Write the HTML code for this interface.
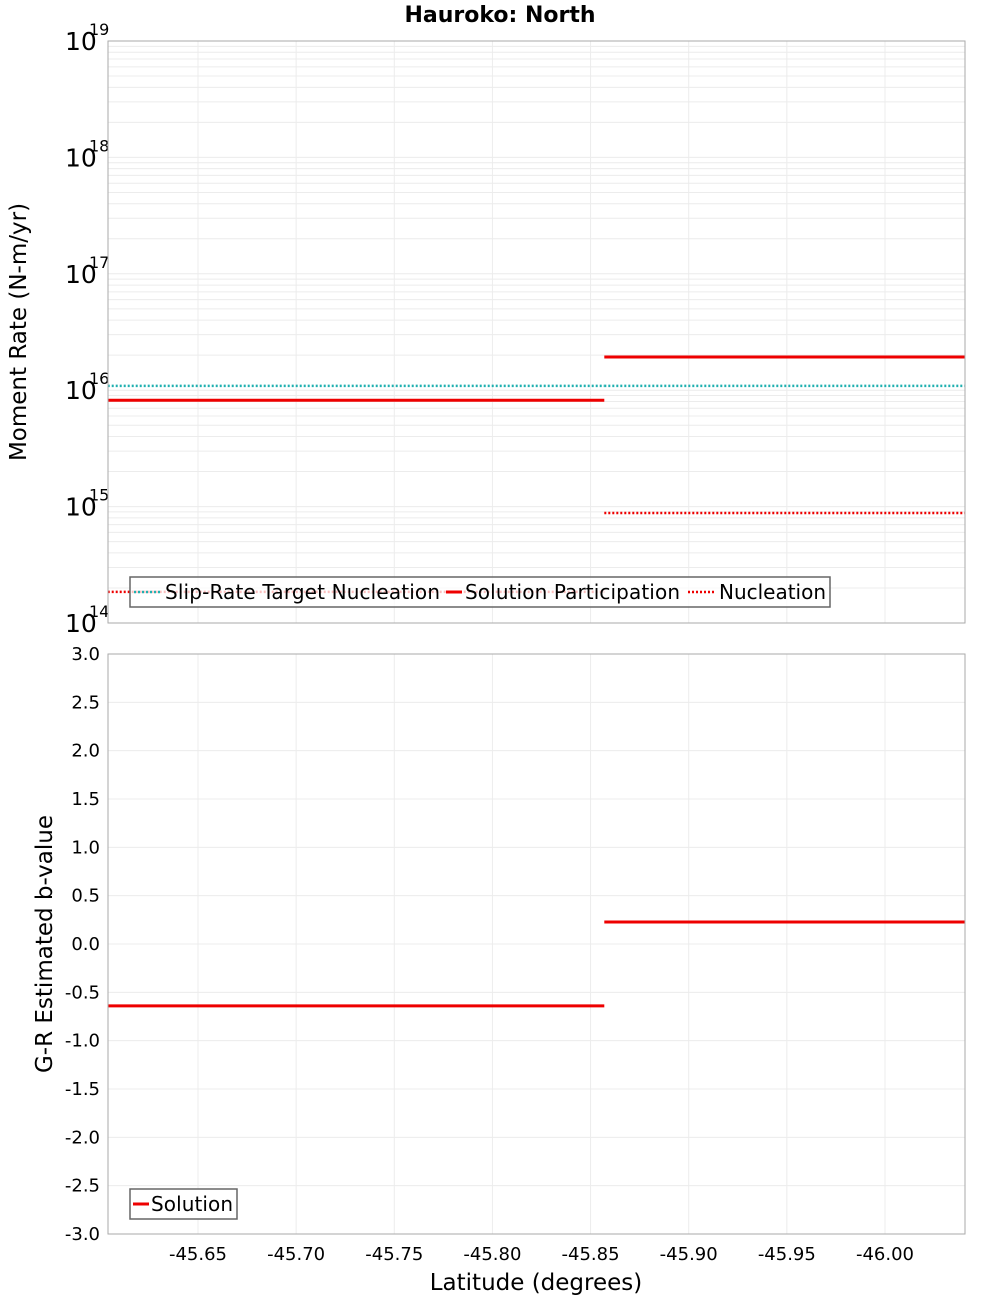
<!DOCTYPE html>
<html><head><meta charset="utf-8"><style>
body{margin:0;background:#fff;font-family:"Liberation Sans","DejaVu Sans",sans-serif}
svg text{font-family:"DejaVu Sans","Liberation Sans",sans-serif}
</style></head><body>
<svg id="c" width="1000" height="1300" xmlns="http://www.w3.org/2000/svg">
<text x="500" y="22" text-anchor="middle" font-size="22" font-weight="bold">Hauroko: North</text>
<g id="topPanel"></g>
<g id="botPanel"></g>
</svg>
<script>
const xTicks=[-45.65,-45.70,-45.75,-45.80,-45.85,-45.90,-45.95,-46.00];
const segLat=[-45.604,-45.857,-46.041];
const targetRate=[1.09e16,1.09e16];
const partRate=[8.2e15,1.93e16];
const nuclRate=[1.85e14,8.8e14];
const bValue=[-0.64,0.228];
const yBTicks=[3.0,2.5,2.0,1.5,1.0,0.5,0.0,-0.5,-1.0,-1.5,-2.0,-2.5,-3.0];
const decades=[14,15,16,17,18,19];

const NS="http://www.w3.org/2000/svg";
const L=108,R=965,T1=41,B1=623,T2=654,B2=1234;
const X=v=>198+(v-(-45.65))/(-0.05)*98.14;
const Y1=v=>T1+(19-Math.log10(v))*(B1-T1)/5;
const Y2=v=>T2+(3-v)*(B2-T2)/6;
function mk(p,t,a){const e=document.createElementNS(NS,t);for(const k in a)e.setAttribute(k,a[k]);p.appendChild(e);return e;}
const topG=document.getElementById('topPanel'),botG=document.getElementById('botPanel');

for(const d of decades){ if(d<19) for(let m=1;m<10;m++){const y=Y1(m*Math.pow(10,d));
 const g=mk(topG,'line',{x1:L,x2:R,y1:y,y2:y,stroke:'#ececec','stroke-width':1});
 
 }}
for(const v of yBTicks){const y=Y2(v);
 const g=mk(botG,'line',{x1:L,x2:R,y1:y,y2:y,stroke:'#ececec','stroke-width':1});
 
 
 const t=mk(botG,'text',{x:100,y:y+6,'text-anchor':'end','font-size':18});
 
 
 t.textContent=v.toFixed(1);}
for(const v of xTicks){const x=X(v);
 for(const [p,a,b] of [[topG,T1,B1],[botG,T2,B2]]){const g=mk(p,'line',{x1:x,x2:x,y1:a,y2:b,stroke:'#ececec','stroke-width':1});
  
  }
 const t=mk(botG,'text',{x:x,y:1260,'text-anchor':'middle','font-size':18});
 
 
 t.textContent=v.toFixed(2);}
for(const d of decades){const y=Y1(Math.pow(10,d));
 const t=mk(topG,'text',{x:65,y:y+9,'font-size':25});
 
 
 t.textContent='10';
 const s=mk(topG,'text',{x:89,y:y-6,'font-size':16});
 
 
 s.textContent=d;}
function seg(p,arr,Y,color,dash,w,name){for(let i=0;i<arr.length;i++){
 const a={x1:X(segLat[i]),x2:X(segLat[i+1]),y1:Y(arr[i]),y2:Y(arr[i]),stroke:color,'stroke-width':w};
 if(dash)a['stroke-dasharray']=dash;
 const l=mk(p,'line',a);
 
 }}
seg(topG,targetRate,Y1,'#20b0b0','2,2',2.5,'slip-rate-target-line');
seg(topG,partRate,Y1,'#ee0000',null,3,'solution-participation-line');
seg(topG,nuclRate,Y1,'#ee0000','2,2',2.5,'nucleation-line');
seg(botG,bValue,Y2,'#ee0000',null,3,'b-value-line');
for(const [p,a,b] of [[topG,T1,B1],[botG,T2,B2]]){const r=mk(p,'rect',{x:L,y:a,width:R-L,height:b-a,fill:'none',stroke:'#aaa'});
 
 }
</script>
<svg style="position:absolute;left:0;top:0" width="1000" height="1300" xmlns="http://www.w3.org/2000/svg">
<g>
<rect x="130" y="577" width="700" height="30" fill="rgba(255,255,255,0.75)" stroke="#666" stroke-width="1.5"/>
<line x1="134" x2="162" y1="592" y2="592" stroke="#20b0b0" stroke-width="2.5" stroke-dasharray="2,2"/>
<text x="165" y="599" font-size="20" textLength="275">Slip-Rate Target Nucleation</text>
<line x1="446" x2="462" y1="592" y2="592" stroke="#ee0000" stroke-width="3"/>
<text x="465" y="599" font-size="20" textLength="215">Solution Participation</text>
<line x1="688" x2="716" y1="592" y2="592" stroke="#ee0000" stroke-width="2.5" stroke-dasharray="2,2"/>
<text x="719" y="599" font-size="20" textLength="107">Nucleation</text>
</g>
<g>
<rect x="130" y="1189" width="107" height="30" fill="#fff" stroke="#666" stroke-width="1.5"/>
<line x1="133" x2="149" y1="1204" y2="1204" stroke="#ee0000" stroke-width="3"/>
<text x="151" y="1211" font-size="20" textLength="82">Solution</text>
</g>
<text transform="translate(26,332) rotate(-90)" text-anchor="middle" font-size="23">Moment Rate (N-m/yr)</text>
<text transform="translate(52,944) rotate(-90)" text-anchor="middle" font-size="23">G-R Estimated b-value</text>
<text x="536" y="1290" text-anchor="middle" font-size="23">Latitude (degrees)</text>
</svg>
</body></html>
